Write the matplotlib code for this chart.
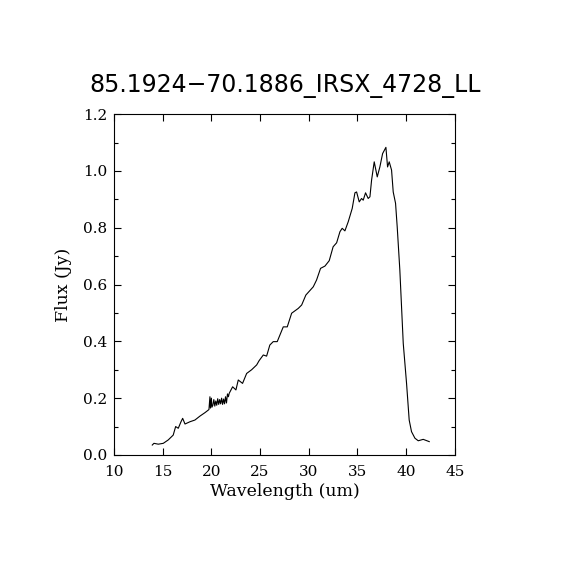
import numpy as np
import matplotlib
matplotlib.use("Agg")
import matplotlib.pyplot as plt
from matplotlib.ticker import MultipleLocator

# spectrum
wave = [13.93, 14.10, 14.55, 15.06, 15.57, 16.08, 16.33, 16.60, 16.88, 17.05,
        17.29, 17.80, 18.31, 18.83, 19.34, 19.68,
        19.75, 19.85, 19.90, 20.00, 20.05, 20.15, 20.25, 20.35, 20.45, 20.55,
        20.65, 20.75, 20.85, 20.95, 21.05, 21.15, 21.25, 21.35, 21.45, 21.55,
        21.65, 21.75,
        21.83, 22.18, 22.52, 22.76, 23.20, 23.62, 24.13, 24.65, 24.90, 25.33,
        25.67, 26.00, 26.35, 26.76, 27.38, 27.79, 28.24, 28.92, 29.27, 29.70,
        30.46, 30.80, 31.21, 31.66, 32.10, 32.50, 32.86, 33.20, 33.43, 33.71,
        34.05, 34.46, 34.74, 34.91, 35.18, 35.42, 35.59, 35.83, 36.10, 36.28,
        36.45, 36.72, 37.03, 37.30, 37.58, 37.92, 38.09, 38.26, 38.50, 38.67,
        38.91, 39.08, 39.35, 39.70, 40.04, 40.31, 40.55, 40.90, 41.24, 41.75,
        42.37]
flux = [0.035, 0.041, 0.038, 0.041, 0.053, 0.070, 0.100, 0.094, 0.117, 0.129,
        0.109, 0.117, 0.123, 0.137, 0.149, 0.158,
        0.160, 0.205, 0.165, 0.200, 0.168, 0.175, 0.195, 0.172, 0.190, 0.175,
        0.198, 0.178, 0.195, 0.180, 0.200, 0.178, 0.197, 0.180, 0.205, 0.183,
        0.215, 0.205,
        0.217, 0.240, 0.229, 0.264, 0.252, 0.287, 0.300, 0.317, 0.332, 0.352,
        0.348, 0.387, 0.399, 0.399, 0.451, 0.451, 0.499, 0.516, 0.528, 0.563,
        0.592, 0.616, 0.657, 0.665, 0.684, 0.733, 0.747, 0.786, 0.798, 0.789,
        0.821, 0.868, 0.923, 0.926, 0.891, 0.903, 0.897, 0.923, 0.903, 0.909,
        0.968, 1.032, 0.979, 1.014, 1.061, 1.083, 1.014, 1.032, 1.003, 0.926,
        0.886, 0.803, 0.651, 0.393, 0.252, 0.123, 0.082, 0.059, 0.050, 0.055,
        0.047]

title = "85.1924\u221270.1886_IRSX_4728_LL"

plt.rcParams['font.family'] = ['DejaVu Serif']

fig = plt.figure(figsize=(5.7, 5.7), dpi=100)
ax = fig.add_axes([0.2, 0.2018, 0.598, 0.598])
ax.plot(wave, flux, color='black', lw=0.8)

ax.set_xlim(10, 45)
ax.set_ylim(0, 1.2)
ax.xaxis.set_major_locator(MultipleLocator(5))
ax.yaxis.set_major_locator(MultipleLocator(0.2))
ax.yaxis.set_minor_locator(MultipleLocator(0.1))
ax.yaxis.set_major_formatter(matplotlib.ticker.FormatStrFormatter('%.1f'))
ax.tick_params(which='both', direction='in', top=True, right=True,
               labelsize=11, width=0.8)
ax.tick_params(which='major', length=5, pad=7)
ax.tick_params(axis='y', which='major', pad=5)
ax.tick_params(which='minor', length=3)
for s in ax.spines.values():
    s.set_linewidth(0.8)

ax.set_xlabel("Wavelength (um)", fontsize=12.5, labelpad=3)
ax.set_ylabel("Flux (Jy)", fontsize=12.5, labelpad=8)
fig.text(0.5, 0.85, title, ha='center', va='center', fontsize=17,
         family='DejaVu Sans')

fig.savefig("out.png", dpi=100)
